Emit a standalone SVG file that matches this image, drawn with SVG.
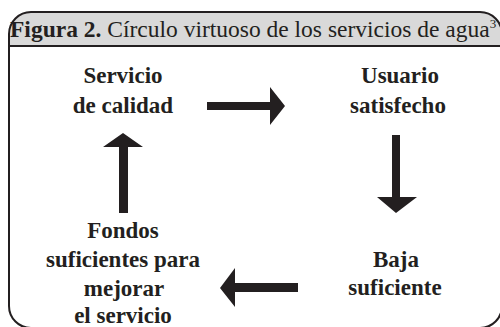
<svg xmlns="http://www.w3.org/2000/svg" width="500" height="327" viewBox="0 0 500 327">
<style>
.t{font-family:"Liberation Serif","Times New Roman",serif;fill:#231f20}
.n{font-size:23px;font-weight:bold;text-anchor:middle}
.ar{fill:#231f20}
</style>
<rect width="500" height="327" fill="#ffffff"/>
<g id="frame">
<path d="M9,34 A22,22 0 0 1 31,12 L480,12 A22,22 0 0 1 502,34 L502,46 L9,46 Z" fill="#d9d9d9"/>
<path d="M9,34 A22,22 0 0 1 31,12 L480,12 A22,22 0 0 1 502,34 L502,306 A22,22 0 0 1 480,328 L31,328 A22,22 0 0 1 9,306 Z" fill="none" stroke="#231f20" stroke-width="2"/>
<line x1="9" y1="46" x2="502" y2="46" stroke="#231f20" stroke-width="2"/>
<text class="t" x="10" y="36.5" font-size="23.5"><tspan font-weight="bold">Figura 2.</tspan> Círculo virtuoso de los servicios de agua<tspan font-size="13" dy="-9">3</tspan></text>
</g>
<g id="node-servicio">
<text class="t n" x="123" y="83">Servicio</text>
<text class="t n" x="123" y="113">de calidad</text>
</g>
<g id="node-usuario">
<text class="t n" x="400" y="83">Usuario</text>
<text class="t n" x="398" y="113">satisfecho</text>
</g>
<g id="node-baja">
<text class="t n" x="396" y="267">Baja</text>
<text class="t n" x="395" y="295">suficiente</text>
</g>
<g id="node-fondos">
<text class="t n" x="123" y="238">Fondos</text>
<text class="t n" x="123" y="267">suficientes para</text>
<text class="t n" x="124" y="296">mejorar</text>
<text class="t n" x="123" y="323">el servicio</text>
</g>
<g id="connectors">
<polygon class="ar" points="207,102 270,102 270,87 285,106 270,125 270,110 207,110"/>
<polygon class="ar" points="392,135 400,135 400,197 417,197 396,213 377,197 392,197"/>
<polygon class="ar" points="298,283 298,292 235,292 235,307 220,288 235,268 235,283"/>
<polygon class="ar" points="119,213 128,213 128,147 143,147 123,133 103,147 119,147"/>
</g>
</svg>
